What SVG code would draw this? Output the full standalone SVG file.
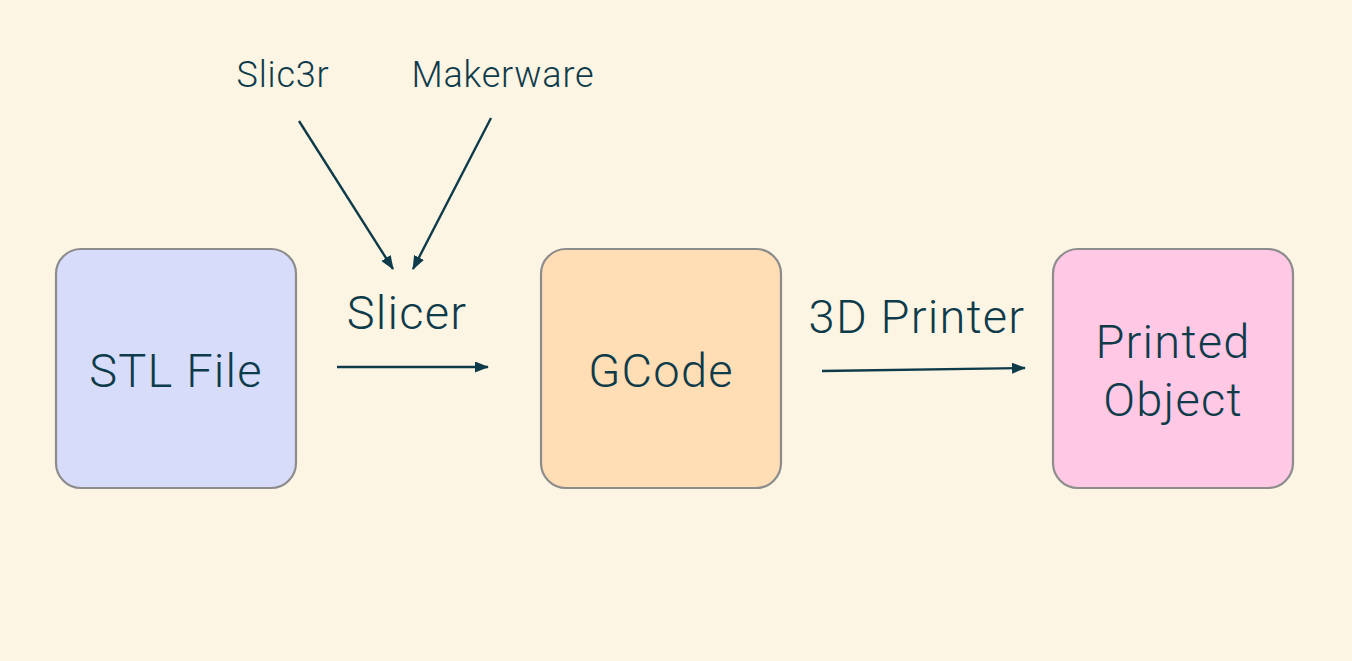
<svg xmlns="http://www.w3.org/2000/svg" width="1352" height="661" viewBox="0 0 1352 661">
<style>
.box{stroke:#8c8c8c;stroke-width:2.2}
.t{font-family:Roboto,"Liberation Sans",sans-serif;font-weight:300;fill:#0e3b4a;text-anchor:middle}
.big{font-size:47px;letter-spacing:1.2px}
.small{font-size:36px;letter-spacing:0.8px}
.c{stroke:#0e3b4a;stroke-width:2.4;fill:none;marker-end:url(#ah)}
</style>
<defs>
<marker id="ah" viewBox="0 0 14 11" refX="13" refY="5.5" markerWidth="14" markerHeight="11" markerUnits="userSpaceOnUse" orient="auto">
<path d="M0,0 L14,5.5 L0,11 z" fill="#0e3b4a"/>
</marker>
</defs>
<rect width="1352" height="661" fill="#fdf5e4"/>
<g id="stl">
<rect class="box" x="56" y="249" width="240" height="239" rx="25" fill="#d7dcfa"/>
<text class="t big" x="176" y="387">STL File</text>
</g>
<g id="gcode">
<rect class="box" x="541" y="249" width="240" height="239" rx="25" fill="#ffddb5"/>
<text class="t big" x="661" y="387">GCode</text>
</g>
<g id="printed">
<rect class="box" x="1053" y="249" width="240" height="239" rx="25" fill="#ffc8e4"/>
<text class="t big" x="1173" y="358">Printed</text>
<text class="t big" x="1173" y="416">Object</text>
</g>
<g id="labels">
<text class="t small" x="283" y="87">Slic3r</text>
<text class="t small" x="503" y="87">Makerware</text>
<text class="t big" x="407" y="329">Slicer</text>
<text class="t big" x="917" y="333">3D Printer</text>
</g>
<g id="connectors">
<line class="c" x1="337" y1="367" x2="488" y2="367"/>
<line class="c" x1="822" y1="371" x2="1025" y2="368"/>
<line class="c" x1="299" y1="121" x2="393" y2="269"/>
<line class="c" x1="491" y1="118" x2="413" y2="269"/>
</g>
</svg>
